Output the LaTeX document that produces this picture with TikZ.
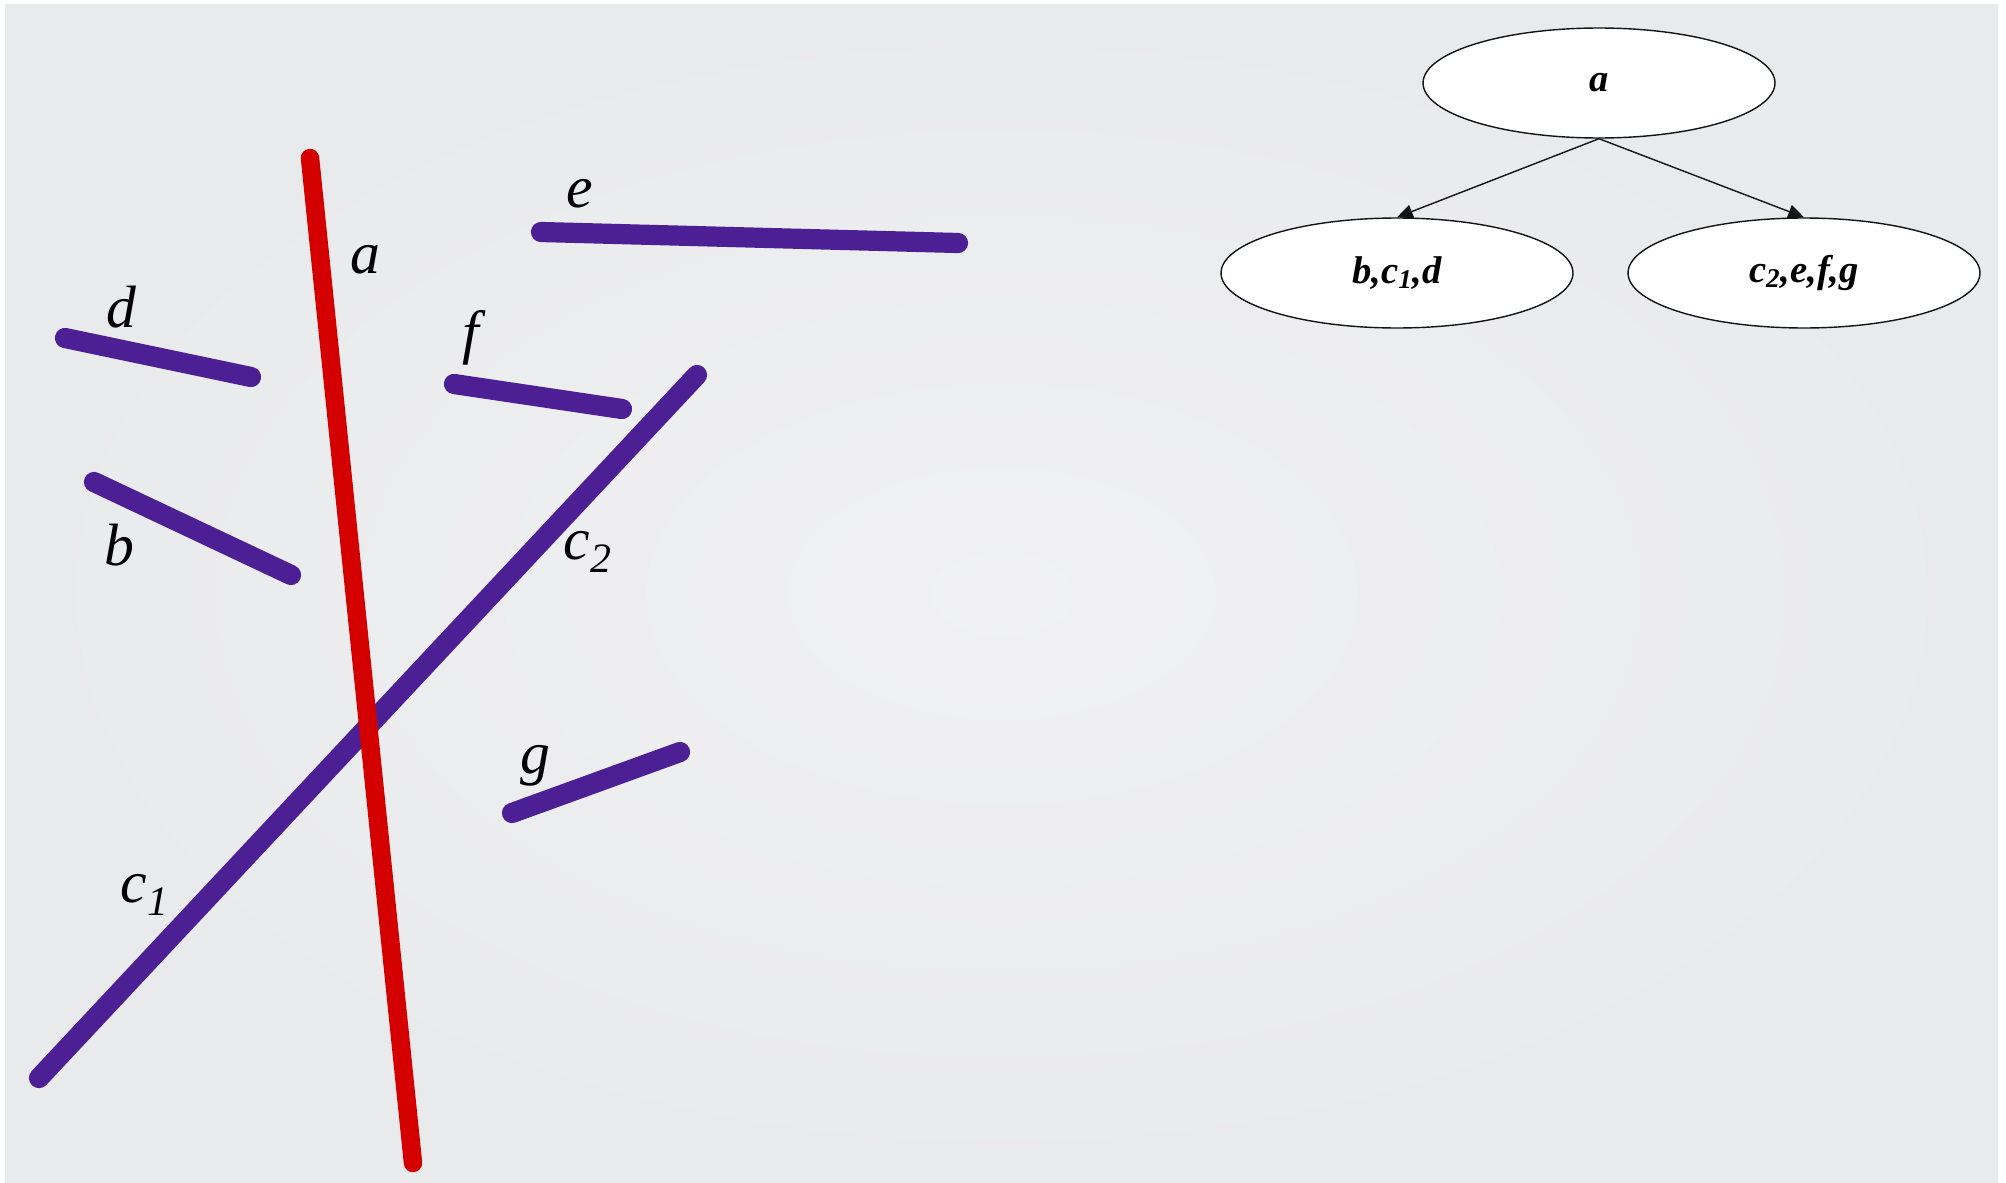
\documentclass[tikz,border=0pt]{standalone}
\usepackage{fontspec}
\setmainfont{Liberation Serif}
\usetikzlibrary{shapes.geometric,arrows.meta}
\definecolor{bgin}{RGB}{241,241,243}
\definecolor{bgout}{RGB}{233,234,236}
\definecolor{segp}{RGB}{76,32,148}
\definecolor{segr}{RGB}{212,0,0}
\definecolor{edgec}{RGB}{20,20,20}
\tikzset{
  seg/.style={line width=11.5pt, line cap=round, draw=segp},
  splitter/.style={line width=10.5pt, line cap=round, draw=segr},
  lbl/.style={font=\fontsize{34}{36}\selectfont\itshape, inner sep=0pt},
  tnode/.style={ellipse, draw=edgec, fill=white, line width=0.8pt, minimum width=7.04cm, minimum height=2.2cm, inner sep=0pt, font=\fontsize{22}{26}\selectfont\bfseries\itshape},
  tedge/.style={draw=edgec, line width=0.8pt, -{Triangle[length=9pt,width=8pt]}}
}
\begin{document}
\begin{tikzpicture}[x=0.02cm,y=-0.02cm]
\fill[white] (0,0) rectangle (2006,1183);
\shade[inner color=bgin, outer color=bgout] (5,4) rectangle (1998,1183);
\useasboundingbox (0,0) rectangle (2006,1183);
% segment end points
\coordinate (a1) at (310,158);
\coordinate (a2) at (413,1163);
\coordinate (e1) at (541,232);
\coordinate (e2) at (958,243);
\coordinate (d1) at (65,338);
\coordinate (d2) at (251,377);
\coordinate (f1) at (454,384);
\coordinate (f2) at (622,409);
\coordinate (b1) at (94,482);
\coordinate (b2) at (291,575);
\coordinate (c1) at (39,1078);
\coordinate (c2) at (697,375);
\coordinate (g1) at (512,813);
\coordinate (g2) at (680,752);
% segments
\draw[seg] (e1) -- (e2);
\draw[seg] (d1) -- (d2);
\draw[seg] (f1) -- (f2);
\draw[seg] (b1) -- (b2);
\draw[seg] (c1) -- (c2);
\draw[seg] (g1) -- (g2);
\draw[splitter] (a1) -- (a2);
% labels
\node[lbl] (la) at (365,260) {a};
\node[lbl] (le) at (580,194) {e};
\node[lbl] (ld) at (121,307) {d};
\node[lbl] (lf) at (471,338) {f};
\node[lbl] (lb) at (119,545) {b};
\node[lbl] (lc2) at (588,552) {c\textsubscript{2}};
\node[lbl] (lc1) at (145,895) {c\textsubscript{1}};
\node[lbl] (lg) at (535,766) {g};
% tree
\node[tnode] (ta) at (1599,83) {a};
\node[tnode] (tl) at (1397,273) {b,c\textsubscript{1},d};
\node[tnode] (tr) at (1804,273) {c\textsubscript{2},e,f,g};
\draw[tedge] (ta.south) -- (tl.north);
\draw[tedge] (ta.south) -- (tr.north);
\end{tikzpicture}
\end{document}
